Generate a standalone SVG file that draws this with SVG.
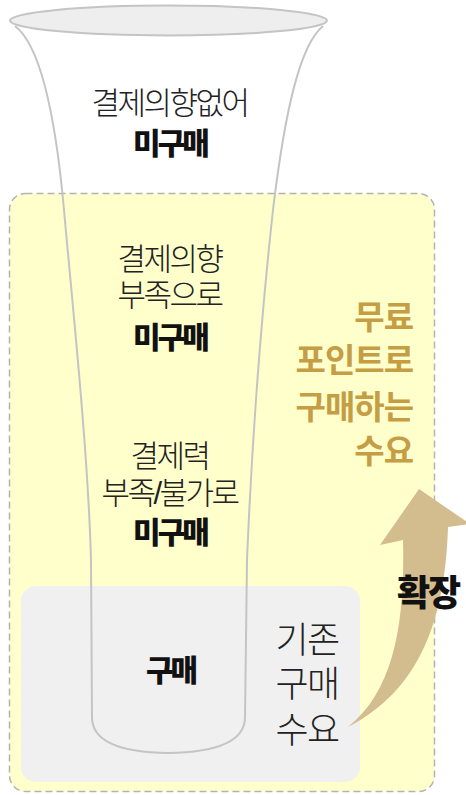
<svg xmlns="http://www.w3.org/2000/svg" width="466" height="795" viewBox="0 0 466 795">
<defs>
<style>
.t{font-family:"Liberation Sans","Noto Sans CJK KR",sans-serif;}
.reg{font-size:31px;font-weight:300;fill:#222;letter-spacing:-2.5px;text-anchor:middle;}
.bold{font-size:30px;font-weight:900;fill:#111;letter-spacing:-3px;text-anchor:middle;}
.side{font-size:36px;font-weight:300;fill:#222;letter-spacing:-1.5px;text-anchor:middle;}
.gold{font-size:33px;font-weight:700;fill:#c59d44;letter-spacing:-1px;text-anchor:end;}
.fl{fill:none;stroke:#c4c4c4;stroke-width:2;}
</style>
</defs>
<rect width="466" height="795" fill="#ffffff"/>
<g id="zone-expanded">
<rect x="9.5" y="193.5" width="425" height="598" rx="16" fill="#ffffcc" stroke="#b3b3b3" stroke-width="1.5" stroke-dasharray="7,4"/>
</g>
<g id="zone-existing">
<rect x="21" y="586" width="339" height="196" rx="15" fill="#f0f0f0"/>
</g>
<g id="funnel">
<path class="fl" d="M15,26 C40,45 55,110 64,210 C72,300 88,450 91,560 L92,718 Q93,752 168,753 Q244,752 245,718 L247,560 C252,440 262,310 273,210 C285,110 300,45 323,26"/>
<ellipse cx="168.5" cy="20.5" rx="158.5" ry="15" fill="#eeeeee" stroke="#c4c4c4" stroke-width="2"/>
</g>
<g id="connectors">
<path d="M348,727 C395,690 405,620 403,540 L380,545 L419,489 L470,524 L448,527 C445,620 420,690 348,727 Z" fill="#d3bc8e"/>
</g>
<g id="node-no-intent">
<text class="t reg" x="169.5" y="113.5">결제의향없어</text>
<text class="t bold" x="170" y="154">미구매</text>
</g>
<g id="node-low-intent">
<text class="t reg" x="169.5" y="270">결제의향</text>
<text class="t reg" x="169.5" y="306">부족으로</text>
<text class="t bold" x="170" y="348">미구매</text>
</g>
<g id="node-no-funds">
<text class="t reg" x="169.5" y="467">결제력</text>
<text class="t reg" x="169.5" y="504">부족/불가로</text>
<text class="t bold" x="170" y="543">미구매</text>
</g>
<g id="node-purchase">
<text class="t bold" x="170.5" y="681">구매</text>
</g>
<g id="node-existing-label">
<text class="t side" x="307" y="653">기존</text>
<text class="t side" x="307" y="697">구매</text>
<text class="t side" x="307" y="743">수요</text>
</g>
<g id="node-free-point">
<text class="t gold" x="413" y="328.5">무료</text>
<text class="t gold" x="413" y="372">포인트로</text>
<text class="t gold" x="413" y="418.5">구매하는</text>
<text class="t gold" x="413" y="462.5">수요</text>
</g>
<g id="node-expand">
<text class="t" x="428" y="606" font-size="36" font-weight="900" fill="#111" letter-spacing="-2" text-anchor="middle">확장</text>
</g>
</svg>
